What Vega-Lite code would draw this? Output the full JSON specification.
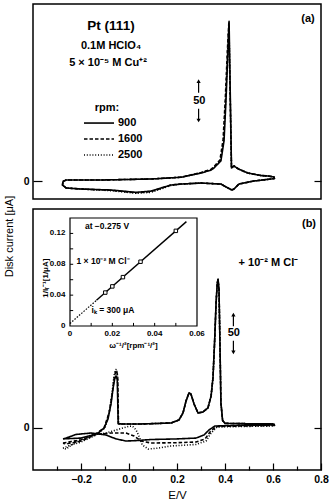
{
  "$schema": "https://vega.github.io/schema/vega-lite/v6.json",
  "background": "white",
  "padding": {"left": 2, "top": 3, "right": 2, "bottom": 2},
  "spacing": 10,
  "bounds": "flush",
  "config": {
    "view": {"stroke": "black", "strokeWidth": 1.5},
    "font": "Liberation Sans",
    "concat": {"spacing": 10},
    "axis": {"grid": false, "domain": false, "tickColor": "black", "tickWidth": 1.2, "labelColor": "black", "titleColor": "black", "labelFont": "Liberation Sans", "titleFont": "Liberation Sans", "labelFontWeight": "bold", "labelFontSize": 10.5, "titleFontWeight": "normal", "titleFontSize": 11.5, "labelFlush": false, "labelOverlap": false},
    "text": {"font": "Liberation Sans", "color": "black"}
  },
  "vconcat": [
    {
      "width": 288,
      "height": 195,
      "data": {"values": [
        {"rpm":"2500","i":0,"E":-0.275,"I":-0.5},{"rpm":"2500","i":1,"E":-0.262,"I":1.2},{"rpm":"2500","i":2,"E":-0.117,"I":1.2},{"rpm":"2500","i":3,"E":0.092,"I":2.4},{"rpm":"2500","i":4,"E":0.217,"I":4.5},{"rpm":"2500","i":5,"E":0.3,"I":9.8},{"rpm":"2500","i":6,"E":0.342,"I":13.5},{"rpm":"2500","i":7,"E":0.354,"I":16},{"rpm":"2500","i":8,"E":0.381,"I":24.5},{"rpm":"2500","i":9,"E":0.394,"I":48},{"rpm":"2500","i":10,"E":0.4025,"I":95},{"rpm":"2500","i":11,"E":0.411,"I":155},{"rpm":"2500","i":12,"E":0.4165,"I":186},{"rpm":"2500","i":13,"E":0.427,"I":15.5},{"rpm":"2500","i":14,"E":0.4375,"I":17.9},{"rpm":"2500","i":15,"E":0.458,"I":14},{"rpm":"2500","i":16,"E":0.496,"I":9.5},{"rpm":"2500","i":17,"E":0.55,"I":6.5},{"rpm":"2500","i":18,"E":0.579,"I":6},{"rpm":"2500","i":19,"E":0.604,"I":4.8},{"rpm":"2500","i":20,"E":0.606,"I":3},{"rpm":"2500","i":21,"E":0.592,"I":2.4},{"rpm":"2500","i":22,"E":0.52,"I":0},{"rpm":"2500","i":23,"E":0.458,"I":-3.6},{"rpm":"2500","i":24,"E":0.4375,"I":-9.5},{"rpm":"2500","i":25,"E":0.429,"I":-10.7},{"rpm":"2500","i":26,"E":0.4125,"I":-8.3},{"rpm":"2500","i":27,"E":0.383,"I":-3.6},{"rpm":"2500","i":28,"E":0.3,"I":-2.4},{"rpm":"2500","i":29,"E":0.217,"I":-3.6},{"rpm":"2500","i":30,"E":0.175,"I":-5.2},{"rpm":"2500","i":31,"E":0.133,"I":-9.5},{"rpm":"2500","i":32,"E":0.092,"I":-13.5},{"rpm":"2500","i":33,"E":0.029,"I":-14.5},{"rpm":"2500","i":34,"E":-0.075,"I":-11.5},{"rpm":"2500","i":35,"E":-0.2,"I":-9.5},{"rpm":"2500","i":36,"E":-0.262,"I":-8.3},{"rpm":"2500","i":37,"E":-0.277,"I":-4.8},{"rpm":"2500","i":38,"E":-0.275,"I":-0.5},
        {"rpm":"1600","i":0,"E":-0.275,"I":-0.5},{"rpm":"1600","i":1,"E":-0.262,"I":1.2},{"rpm":"1600","i":2,"E":-0.117,"I":1.2},{"rpm":"1600","i":3,"E":0.092,"I":2.4},{"rpm":"1600","i":4,"E":0.217,"I":4.5},{"rpm":"1600","i":5,"E":0.3,"I":10},{"rpm":"1600","i":6,"E":0.342,"I":14},{"rpm":"1600","i":7,"E":0.354,"I":17},{"rpm":"1600","i":8,"E":0.379,"I":25},{"rpm":"1600","i":9,"E":0.392,"I":49},{"rpm":"1600","i":10,"E":0.401,"I":96},{"rpm":"1600","i":11,"E":0.41,"I":156},{"rpm":"1600","i":12,"E":0.416,"I":188},{"rpm":"1600","i":13,"E":0.427,"I":15.5},{"rpm":"1600","i":14,"E":0.4375,"I":17.9},{"rpm":"1600","i":15,"E":0.458,"I":14},{"rpm":"1600","i":16,"E":0.496,"I":9.5},{"rpm":"1600","i":17,"E":0.55,"I":6.5},{"rpm":"1600","i":18,"E":0.579,"I":6},{"rpm":"1600","i":19,"E":0.604,"I":4.8},{"rpm":"1600","i":20,"E":0.606,"I":3},{"rpm":"1600","i":21,"E":0.592,"I":2.4},{"rpm":"1600","i":22,"E":0.52,"I":0},{"rpm":"1600","i":23,"E":0.458,"I":-3.6},{"rpm":"1600","i":24,"E":0.4375,"I":-9.5},{"rpm":"1600","i":25,"E":0.429,"I":-10.7},{"rpm":"1600","i":26,"E":0.4125,"I":-8.3},{"rpm":"1600","i":27,"E":0.383,"I":-3.6},{"rpm":"1600","i":28,"E":0.3,"I":-2.4},{"rpm":"1600","i":29,"E":0.217,"I":-3.6},{"rpm":"1600","i":30,"E":0.175,"I":-4.8},{"rpm":"1600","i":31,"E":0.133,"I":-8.8},{"rpm":"1600","i":32,"E":0.092,"I":-12.5},{"rpm":"1600","i":33,"E":0.029,"I":-14},{"rpm":"1600","i":34,"E":-0.075,"I":-11},{"rpm":"1600","i":35,"E":-0.2,"I":-9.5},{"rpm":"1600","i":36,"E":-0.262,"I":-8.3},{"rpm":"1600","i":37,"E":-0.277,"I":-4.8},{"rpm":"1600","i":38,"E":-0.275,"I":-0.5},
        {"rpm":"900","i":0,"E":-0.275,"I":-0.5},{"rpm":"900","i":1,"E":-0.262,"I":1.2},{"rpm":"900","i":2,"E":-0.117,"I":1.2},{"rpm":"900","i":3,"E":0.092,"I":2.4},{"rpm":"900","i":4,"E":0.217,"I":4.5},{"rpm":"900","i":5,"E":0.3,"I":9.5},{"rpm":"900","i":6,"E":0.342,"I":13},{"rpm":"900","i":7,"E":0.354,"I":15.5},{"rpm":"900","i":8,"E":0.383,"I":24},{"rpm":"900","i":9,"E":0.396,"I":48},{"rpm":"900","i":10,"E":0.404,"I":95},{"rpm":"900","i":11,"E":0.4125,"I":155},{"rpm":"900","i":12,"E":0.417,"I":190},{"rpm":"900","i":13,"E":0.427,"I":15.5},{"rpm":"900","i":14,"E":0.4375,"I":17.9},{"rpm":"900","i":15,"E":0.458,"I":14},{"rpm":"900","i":16,"E":0.496,"I":9.5},{"rpm":"900","i":17,"E":0.55,"I":6.5},{"rpm":"900","i":18,"E":0.579,"I":6},{"rpm":"900","i":19,"E":0.604,"I":4.8},{"rpm":"900","i":20,"E":0.606,"I":3},{"rpm":"900","i":21,"E":0.592,"I":2.4},{"rpm":"900","i":22,"E":0.52,"I":0},{"rpm":"900","i":23,"E":0.458,"I":-3.6},{"rpm":"900","i":24,"E":0.4375,"I":-9.5},{"rpm":"900","i":25,"E":0.429,"I":-10.7},{"rpm":"900","i":26,"E":0.4125,"I":-8.3},{"rpm":"900","i":27,"E":0.383,"I":-3.6},{"rpm":"900","i":28,"E":0.3,"I":-2.4},{"rpm":"900","i":29,"E":0.217,"I":-3.6},{"rpm":"900","i":30,"E":0.175,"I":-4.8},{"rpm":"900","i":31,"E":0.133,"I":-8.3},{"rpm":"900","i":32,"E":0.092,"I":-12},{"rpm":"900","i":33,"E":0.029,"I":-13.5},{"rpm":"900","i":34,"E":-0.075,"I":-10.7},{"rpm":"900","i":35,"E":-0.2,"I":-9.5},{"rpm":"900","i":36,"E":-0.262,"I":-8.3},{"rpm":"900","i":37,"E":-0.277,"I":-4.8},{"rpm":"900","i":38,"E":-0.275,"I":-0.5}
      ]},
      "layer": [
        {
          "mark": {"type": "line", "color": "black", "strokeWidth": 1.6, "strokeJoin": "round"},
          "encoding": {
            "x": {"field": "E", "type": "quantitative", "scale": {"domain": [-0.4, 0.8], "nice": false, "zero": false}, "axis": {"orient": "top", "values": [-0.3,-0.2,-0.1,0,0.1,0.2,0.3,0.4,0.5,0.6,0.7], "labels": false, "tickSize": -5, "title": null}},
            "y": {"field": "I", "type": "quantitative", "scale": {"domain": [-21.4, 210.7], "nice": false, "zero": false}, "axis": {"orient": "left", "values": [0], "tickSize": -9, "labelPadding": 13, "title": null}},
            "strokeDash": {"field": "rpm", "type": "nominal", "scale": {"domain": ["900","1600","2500"], "range": [[1,0],[3.5,2],[1,1.8]]}, "legend": null},
            "order": {"field": "i", "type": "quantitative"}
          }
        },
        {
          "data": {"values": [{}]},
          "mark": {"type": "rule", "color": "black", "strokeWidth": 1.2},
          "encoding": {
            "x": {"datum": 0.29, "type": "quantitative", "axis": null},
            "y": {"datum": 105, "type": "quantitative", "axis": {"orient": "right", "values": [0], "labels": false, "tickSize": -7, "title": null}},
            "y2": {"datum": 119}
          }
        },
        {
          "data": {"values": [{}]},
          "mark": {"type": "rule", "color": "black", "strokeWidth": 1.2},
          "encoding": {
            "x": {"datum": 0.29, "type": "quantitative", "axis": null},
            "y": {"datum": 86, "type": "quantitative", "axis": null},
            "y2": {"datum": 72}
          }
        },
        {
          "data": {"values": [{}]},
          "mark": {"type": "point", "shape": "triangle-up", "filled": true, "color": "black", "size": 18, "opacity": 1},
          "encoding": {"x": {"datum": 0.29, "type": "quantitative", "axis": null}, "y": {"datum": 119, "type": "quantitative", "axis": null}}
        },
        {
          "data": {"values": [{}]},
          "mark": {"type": "point", "shape": "triangle-down", "filled": true, "color": "black", "size": 18, "opacity": 1},
          "encoding": {"x": {"datum": 0.29, "type": "quantitative", "axis": null}, "y": {"datum": 72, "type": "quantitative", "axis": null}}
        },
        {
          "data": {"values": [{}]},
          "mark": {"type": "text", "text": "50", "fontSize": 11, "fontWeight": "bold"},
          "encoding": {"x": {"datum": 0.293, "type": "quantitative", "axis": null}, "y": {"datum": 95, "type": "quantitative", "axis": null}}
        },
        {
          "data": {"values": [{}]},
          "mark": {"type": "text", "text": "Pt (111)", "fontSize": 13.5, "fontWeight": "bold"},
          "encoding": {"x": {"datum": -0.075, "type": "quantitative", "axis": null}, "y": {"datum": 184, "type": "quantitative", "axis": null}}
        },
        {
          "data": {"values": [{}]},
          "mark": {"type": "text", "text": "0.1M   HClO₄", "fontSize": 11, "fontWeight": "bold"},
          "encoding": {"x": {"datum": -0.075, "type": "quantitative", "axis": null}, "y": {"datum": 161, "type": "quantitative", "axis": null}}
        },
        {
          "data": {"values": [{}]},
          "mark": {"type": "text", "text": "5 × 10⁻⁵ M Cu⁺²", "fontSize": 11, "fontWeight": "bold"},
          "encoding": {"x": {"datum": -0.0875, "type": "quantitative", "axis": null}, "y": {"datum": 140, "type": "quantitative", "axis": null}}
        },
        {
          "data": {"values": [{}]},
          "mark": {"type": "text", "text": "(a)", "fontSize": 11, "fontWeight": "bold"},
          "encoding": {"x": {"datum": 0.746, "type": "quantitative", "axis": null}, "y": {"datum": 193, "type": "quantitative", "axis": null}}
        },
        {
          "data": {"values": [{}]},
          "mark": {"type": "text", "text": "rpm:", "fontSize": 11, "fontWeight": "bold"},
          "encoding": {"x": {"datum": -0.0917, "type": "quantitative", "axis": null}, "y": {"datum": 87, "type": "quantitative", "axis": null}}
        },
        {
          "data": {"values": [{}]},
          "mark": {"type": "rule", "color": "black", "strokeWidth": 1.6},
          "encoding": {"x": {"datum": -0.1875, "type": "quantitative", "axis": null}, "x2": {"datum": -0.0625}, "y": {"datum": 69, "type": "quantitative", "axis": null}}
        },
        {
          "data": {"values": [{}]},
          "mark": {"type": "rule", "color": "black", "strokeWidth": 1.6, "strokeDash": [3.5, 2]},
          "encoding": {"x": {"datum": -0.1875, "type": "quantitative", "axis": null}, "x2": {"datum": -0.0625}, "y": {"datum": 50, "type": "quantitative", "axis": null}}
        },
        {
          "data": {"values": [{}]},
          "mark": {"type": "rule", "color": "black", "strokeWidth": 1.6, "strokeDash": [1, 1.8]},
          "encoding": {"x": {"datum": -0.1875, "type": "quantitative", "axis": null}, "x2": {"datum": -0.0625}, "y": {"datum": 31, "type": "quantitative", "axis": null}}
        },
        {
          "data": {"values": [{}]},
          "mark": {"type": "text", "text": "900", "fontSize": 11, "fontWeight": "bold", "align": "left"},
          "encoding": {"x": {"datum": -0.046, "type": "quantitative", "axis": null}, "y": {"datum": 69, "type": "quantitative", "axis": null}}
        },
        {
          "data": {"values": [{}]},
          "mark": {"type": "text", "text": "1600", "fontSize": 11, "fontWeight": "bold", "align": "left"},
          "encoding": {"x": {"datum": -0.046, "type": "quantitative", "axis": null}, "y": {"datum": 50, "type": "quantitative", "axis": null}}
        },
        {
          "data": {"values": [{}]},
          "mark": {"type": "text", "text": "2500", "fontSize": 11, "fontWeight": "bold", "align": "left"},
          "encoding": {"x": {"datum": -0.046, "type": "quantitative", "axis": null}, "y": {"datum": 31, "type": "quantitative", "axis": null}}
        }
      ],
      "resolve": {"axis": {"y": "independent"}}
    },
    {
      "width": 288,
      "height": 261,
      "layer": [
        {
          "data": {"values": [
            {"rpm":"2500","i":0,"E":-0.275,"I":-24},{"rpm":"2500","i":1,"E":-0.24,"I":-20},{"rpm":"2500","i":2,"E":-0.2,"I":-16.7},{"rpm":"2500","i":3,"E":-0.1375,"I":-8.3},{"rpm":"2500","i":4,"E":-0.1,"I":0},{"rpm":"2500","i":5,"E":-0.083,"I":18},{"rpm":"2500","i":6,"E":-0.071,"I":40},{"rpm":"2500","i":7,"E":-0.0625,"I":62},{"rpm":"2500","i":8,"E":-0.057,"I":69},{"rpm":"2500","i":9,"E":-0.052,"I":70},{"rpm":"2500","i":10,"E":-0.048,"I":63},{"rpm":"2500","i":11,"E":-0.044,"I":5},
            {"rpm":"2500","i":12,"E":-0.03,"I":4.8},{"rpm":"2500","i":13,"E":0.05,"I":4.8},{"rpm":"2500","i":14,"E":0.12,"I":5.4},{"rpm":"2500","i":15,"E":0.175,"I":6},{"rpm":"2500","i":16,"E":0.208,"I":9.5},{"rpm":"2500","i":17,"E":0.225,"I":17.9},{"rpm":"2500","i":18,"E":0.2375,"I":32},{"rpm":"2500","i":19,"E":0.25,"I":41.7},{"rpm":"2500","i":20,"E":0.258,"I":40.5},{"rpm":"2500","i":21,"E":0.271,"I":28.6},{"rpm":"2500","i":22,"E":0.2875,"I":17.9},{"rpm":"2500","i":23,"E":0.308,"I":19},{"rpm":"2500","i":24,"E":0.329,"I":24},{"rpm":"2500","i":25,"E":0.342,"I":38},{"rpm":"2500","i":26,"E":0.35,"I":60},{"rpm":"2500","i":27,"E":0.357,"I":105},{"rpm":"2500","i":28,"E":0.363,"I":150},{"rpm":"2500","i":29,"E":0.368,"I":173},{"rpm":"2500","i":30,"E":0.371,"I":177},{"rpm":"2500","i":31,"E":0.375,"I":165},{"rpm":"2500","i":32,"E":0.379,"I":100},{"rpm":"2500","i":33,"E":0.383,"I":30},{"rpm":"2500","i":34,"E":0.39,"I":9},{"rpm":"2500","i":35,"E":0.4,"I":5.5},{"rpm":"2500","i":36,"E":0.467,"I":5.2},{"rpm":"2500","i":37,"E":0.604,"I":4.8},
            {"rpm":"2500","i":38,"E":0.606,"I":2.4},{"rpm":"2500","i":39,"E":0.467,"I":1.8},{"rpm":"2500","i":40,"E":0.367,"I":1.2},{"rpm":"2500","i":41,"E":0.342,"I":-6},{"rpm":"2500","i":42,"E":0.321,"I":-15.5},{"rpm":"2500","i":43,"E":0.279,"I":-19.6},{"rpm":"2500","i":44,"E":0.175,"I":-21.4},{"rpm":"2500","i":45,"E":0.12,"I":-24},{"rpm":"2500","i":46,"E":0.08,"I":-25},{"rpm":"2500","i":47,"E":0.055,"I":-20},{"rpm":"2500","i":48,"E":0.042,"I":-10},{"rpm":"2500","i":49,"E":0.029,"I":-2},{"rpm":"2500","i":50,"E":0.015,"I":2},{"rpm":"2500","i":51,"E":0.0,"I":2},{"rpm":"2500","i":52,"E":-0.054,"I":-2.4},{"rpm":"2500","i":53,"E":-0.096,"I":-6},{"rpm":"2500","i":54,"E":-0.158,"I":-8.3},{"rpm":"2500","i":55,"E":-0.221,"I":-16.7},{"rpm":"2500","i":56,"E":-0.2625,"I":-25},{"rpm":"2500","i":57,"E":-0.275,"I":-24},
            {"rpm":"1600","i":0,"E":-0.275,"I":-18},{"rpm":"1600","i":1,"E":-0.24,"I":-16},{"rpm":"1600","i":2,"E":-0.2,"I":-14},{"rpm":"1600","i":3,"E":-0.16,"I":-10},{"rpm":"1600","i":4,"E":-0.1375,"I":-7},{"rpm":"1600","i":5,"E":-0.104,"I":0},{"rpm":"1600","i":6,"E":-0.083,"I":18},{"rpm":"1600","i":7,"E":-0.071,"I":38},{"rpm":"1600","i":8,"E":-0.0625,"I":58},{"rpm":"1600","i":9,"E":-0.056,"I":67},{"rpm":"1600","i":10,"E":-0.051,"I":68},{"rpm":"1600","i":11,"E":-0.047,"I":60},{"rpm":"1600","i":12,"E":-0.044,"I":5},
            {"rpm":"1600","i":13,"E":-0.03,"I":4.8},{"rpm":"1600","i":14,"E":0.05,"I":4.8},{"rpm":"1600","i":15,"E":0.12,"I":5.4},{"rpm":"1600","i":16,"E":0.175,"I":6},{"rpm":"1600","i":17,"E":0.208,"I":9.5},{"rpm":"1600","i":18,"E":0.225,"I":17.9},{"rpm":"1600","i":19,"E":0.2375,"I":32},{"rpm":"1600","i":20,"E":0.25,"I":41.7},{"rpm":"1600","i":21,"E":0.258,"I":40.5},{"rpm":"1600","i":22,"E":0.271,"I":28.6},{"rpm":"1600","i":23,"E":0.2875,"I":17.9},{"rpm":"1600","i":24,"E":0.308,"I":19},{"rpm":"1600","i":25,"E":0.329,"I":24},{"rpm":"1600","i":26,"E":0.342,"I":38},{"rpm":"1600","i":27,"E":0.35,"I":60},{"rpm":"1600","i":28,"E":0.357,"I":105},{"rpm":"1600","i":29,"E":0.363,"I":150},{"rpm":"1600","i":30,"E":0.368,"I":173},{"rpm":"1600","i":31,"E":0.371,"I":177},{"rpm":"1600","i":32,"E":0.375,"I":165},{"rpm":"1600","i":33,"E":0.379,"I":100},{"rpm":"1600","i":34,"E":0.383,"I":30},{"rpm":"1600","i":35,"E":0.39,"I":9},{"rpm":"1600","i":36,"E":0.4,"I":5.5},{"rpm":"1600","i":37,"E":0.467,"I":5.2},{"rpm":"1600","i":38,"E":0.604,"I":4.8},
            {"rpm":"1600","i":39,"E":0.606,"I":3},{"rpm":"1600","i":40,"E":0.467,"I":2.4},{"rpm":"1600","i":41,"E":0.3625,"I":1.8},{"rpm":"1600","i":42,"E":0.3375,"I":-4.8},{"rpm":"1600","i":43,"E":0.317,"I":-13},{"rpm":"1600","i":44,"E":0.279,"I":-16.7},{"rpm":"1600","i":45,"E":0.2,"I":-17.5},{"rpm":"1600","i":46,"E":0.092,"I":-17.9},{"rpm":"1600","i":47,"E":0.05,"I":-15.5},{"rpm":"1600","i":48,"E":0.021,"I":-9.5},{"rpm":"1600","i":49,"E":-0.0125,"I":-6},{"rpm":"1600","i":50,"E":-0.075,"I":-6},{"rpm":"1600","i":51,"E":-0.1375,"I":-7.7},{"rpm":"1600","i":52,"E":-0.2,"I":-15.5},{"rpm":"1600","i":53,"E":-0.2625,"I":-19},{"rpm":"1600","i":54,"E":-0.275,"I":-18},
            {"rpm":"900","i":0,"E":-0.275,"I":-13},{"rpm":"900","i":1,"E":-0.24,"I":-12.5},{"rpm":"900","i":2,"E":-0.2,"I":-12},{"rpm":"900","i":3,"E":-0.16,"I":-9},{"rpm":"900","i":4,"E":-0.129,"I":-6},{"rpm":"900","i":5,"E":-0.104,"I":0},{"rpm":"900","i":6,"E":-0.0875,"I":10.7},{"rpm":"900","i":7,"E":-0.075,"I":28.6},{"rpm":"900","i":8,"E":-0.067,"I":46},{"rpm":"900","i":9,"E":-0.06,"I":58},{"rpm":"900","i":10,"E":-0.054,"I":62},{"rpm":"900","i":11,"E":-0.049,"I":58},{"rpm":"900","i":12,"E":-0.045,"I":5},
            {"rpm":"900","i":13,"E":-0.03,"I":4.8},{"rpm":"900","i":14,"E":0.05,"I":4.8},{"rpm":"900","i":15,"E":0.12,"I":5.4},{"rpm":"900","i":16,"E":0.175,"I":6},{"rpm":"900","i":17,"E":0.208,"I":9.5},{"rpm":"900","i":18,"E":0.225,"I":17.9},{"rpm":"900","i":19,"E":0.2375,"I":32},{"rpm":"900","i":20,"E":0.25,"I":41.7},{"rpm":"900","i":21,"E":0.258,"I":40.5},{"rpm":"900","i":22,"E":0.271,"I":28.6},{"rpm":"900","i":23,"E":0.2875,"I":17.9},{"rpm":"900","i":24,"E":0.308,"I":19},{"rpm":"900","i":25,"E":0.329,"I":24},{"rpm":"900","i":26,"E":0.342,"I":38},{"rpm":"900","i":27,"E":0.35,"I":60},{"rpm":"900","i":28,"E":0.357,"I":105},{"rpm":"900","i":29,"E":0.363,"I":150},{"rpm":"900","i":30,"E":0.368,"I":173},{"rpm":"900","i":31,"E":0.371,"I":177},{"rpm":"900","i":32,"E":0.375,"I":165},{"rpm":"900","i":33,"E":0.379,"I":100},{"rpm":"900","i":34,"E":0.383,"I":30},{"rpm":"900","i":35,"E":0.39,"I":9},{"rpm":"900","i":36,"E":0.4,"I":5.5},{"rpm":"900","i":37,"E":0.467,"I":5.2},{"rpm":"900","i":38,"E":0.604,"I":4.8},
            {"rpm":"900","i":39,"E":0.606,"I":3.6},{"rpm":"900","i":40,"E":0.467,"I":3},{"rpm":"900","i":41,"E":0.358,"I":2.4},{"rpm":"900","i":42,"E":0.333,"I":-2.4},{"rpm":"900","i":43,"E":0.3125,"I":-8.3},{"rpm":"900","i":44,"E":0.279,"I":-12},{"rpm":"900","i":45,"E":0.2,"I":-13},{"rpm":"900","i":46,"E":0.092,"I":-13.7},{"rpm":"900","i":47,"E":0.03,"I":-15},{"rpm":"900","i":48,"E":-0.0125,"I":-15.5},{"rpm":"900","i":49,"E":-0.054,"I":-13},{"rpm":"900","i":50,"E":-0.096,"I":-8.3},{"rpm":"900","i":51,"E":-0.158,"I":-6},{"rpm":"900","i":52,"E":-0.221,"I":-7.7},{"rpm":"900","i":53,"E":-0.2625,"I":-12},{"rpm":"900","i":54,"E":-0.275,"I":-13}
          ]},
          "layer": [
            {
              "mark": {"type": "line", "color": "black", "strokeWidth": 1.6, "strokeJoin": "round"},
              "encoding": {
                "x": {"field": "E", "type": "quantitative", "scale": {"domain": [-0.4, 0.8], "nice": false, "zero": false}, "axis": {"orient": "bottom", "values": [-0.2, 0, 0.2, 0.4, 0.6, 0.8], "format": ".1f", "tickSize": -7, "labelPadding": 11, "title": "E/V", "titlePadding": 5}},
                "y": {"field": "I", "type": "quantitative", "scale": {"domain": [-50, 260.7], "nice": false, "zero": false}, "axis": {"orient": "left", "values": [0], "tickSize": -9, "labelPadding": 13, "title": "Disk current [μA]", "titleX": -24, "titleY": 27, "titleBaseline": "middle", "titleFontSize": 11}},
                "strokeDash": {"field": "rpm", "type": "nominal", "scale": {"domain": ["900","1600","2500"], "range": [[1,0],[3.5,2],[1,1.8]]}, "legend": null},
                "order": {"field": "i", "type": "quantitative"}
              }
            },
            {
              "data": {"values": [{}]},
              "mark": {"type": "rule", "color": "black", "strokeWidth": 1.2},
              "encoding": {
                "x": {"datum": 0.435, "type": "quantitative", "axis": {"orient": "bottom", "values": [-0.3, -0.1, 0.1, 0.3, 0.5, 0.7], "labels": false, "tickSize": -4, "title": null}},
                "y": {"datum": 121, "type": "quantitative", "axis": {"orient": "right", "values": [0], "labels": false, "tickSize": -7, "title": null}},
                "y2": {"datum": 135}
              }
            },
            {
              "data": {"values": [{}]},
              "mark": {"type": "rule", "color": "black", "strokeWidth": 1.2},
              "encoding": {"x": {"datum": 0.435, "type": "quantitative", "axis": null}, "y": {"datum": 104, "type": "quantitative", "axis": null}, "y2": {"datum": 90}}
            },
            {
              "data": {"values": [{}]},
              "mark": {"type": "point", "shape": "triangle-up", "filled": true, "color": "black", "size": 18, "opacity": 1},
              "encoding": {"x": {"datum": 0.435, "type": "quantitative", "axis": null}, "y": {"datum": 135, "type": "quantitative", "axis": null}}
            },
            {
              "data": {"values": [{}]},
              "mark": {"type": "point", "shape": "triangle-down", "filled": true, "color": "black", "size": 18, "opacity": 1},
              "encoding": {"x": {"datum": 0.435, "type": "quantitative", "axis": null}, "y": {"datum": 90, "type": "quantitative", "axis": null}}
            },
            {
              "data": {"values": [{}]},
              "mark": {"type": "text", "text": "50", "fontSize": 11, "fontWeight": "bold"},
              "encoding": {"x": {"datum": 0.437, "type": "quantitative", "axis": null}, "y": {"datum": 113, "type": "quantitative", "axis": null}}
            },
            {
              "data": {"values": [{}]},
              "mark": {"type": "text", "text": "(b)", "fontSize": 11, "fontWeight": "bold"},
              "encoding": {"x": {"datum": 0.75, "type": "quantitative", "axis": null}, "y": {"datum": 243, "type": "quantitative", "axis": null}}
            },
            {
              "data": {"values": [{}]},
              "mark": {"type": "text", "text": "+ 10⁻² M Cl⁻", "fontSize": 11, "fontWeight": "bold"},
              "encoding": {"x": {"datum": 0.581, "type": "quantitative", "axis": null}, "y": {"datum": 196, "type": "quantitative", "axis": null}}
            }
          ],
          "resolve": {"axis": {"x": "independent", "y": "independent"}}
        },
        {
          "layer": [
            {
              "data": {"values": [{}]},
              "mark": {"type": "rect", "fill": "white", "stroke": "black", "strokeWidth": 1.2},
              "encoding": {
                "x": {"datum": 0, "type": "quantitative", "scale": {"domain": [0, 0.06], "range": [37, 164], "nice": false, "zero": false}, "axis": null},
                "x2": {"datum": 0.06},
                "y": {"datum": 0, "type": "quantitative", "scale": {"domain": [0, 0.14], "range": [117, 9], "nice": false, "zero": false}, "axis": null},
                "y2": {"datum": 0.14}
              }
            },
            {
              "data": {"values": [{"t": 0.01}, {"t": 0.02}, {"t": 0.03}, {"t": 0.04}, {"t": 0.05}]},
              "mark": {"type": "rule", "color": "black", "strokeWidth": 1},
              "encoding": {"x": {"field": "t", "type": "quantitative", "axis": null}, "y": {"datum": 0, "type": "quantitative", "axis": null}, "y2": {"datum": 0.004}}
            },
            {
              "data": {"values": [{"v": 0.02}, {"v": 0.04}, {"v": 0.06}, {"v": 0.08}, {"v": 0.1}, {"v": 0.12}]},
              "mark": {"type": "rule", "color": "black", "strokeWidth": 1},
              "encoding": {"y": {"field": "v", "type": "quantitative", "axis": null}, "x": {"datum": 0, "type": "quantitative", "axis": null}, "x2": {"datum": 0.0015}}
            },
            {
              "data": {"values": [{"t": 0, "lab": "0"}, {"t": 0.02, "lab": "0.02"}, {"t": 0.04, "lab": "0.04"}, {"t": 0.06, "lab": "0.06"}]},
              "mark": {"type": "text", "fontSize": 8, "fontWeight": "bold", "baseline": "middle"},
              "encoding": {"x": {"field": "t", "type": "quantitative", "axis": null}, "y": {"datum": -0.0105, "type": "quantitative", "axis": null}, "text": {"field": "lab"}}
            },
            {
              "data": {"values": [{"v": 0, "lab": "0"}, {"v": 0.04, "lab": "0.04"}, {"v": 0.08, "lab": "0.08"}, {"v": 0.12, "lab": "0.12"}]},
              "mark": {"type": "text", "fontSize": 8, "fontWeight": "bold", "align": "right", "baseline": "middle"},
              "encoding": {"y": {"field": "v", "type": "quantitative", "axis": null}, "x": {"datum": -0.0022, "type": "quantitative", "axis": null}, "text": {"field": "lab"}}
            },
            {
              "data": {"values": [{}]},
              "mark": {"type": "text", "text": "ω⁻¹/²[rpm⁻¹/²]", "fontSize": 8, "fontWeight": "bold"},
              "encoding": {"x": {"datum": 0.03, "type": "quantitative", "axis": null}, "y": {"datum": -0.026, "type": "quantitative", "axis": null}}
            },
            {
              "data": {"values": [{}]},
              "mark": {"type": "text", "text": "1/Iᵣ⁻¹[1/μA]", "fontSize": 8, "fontWeight": "bold", "angle": 270},
              "encoding": {"x": {"datum": -0.0112, "type": "quantitative", "axis": null}, "y": {"datum": 0.062, "type": "quantitative", "axis": null}}
            },
            {
              "data": {"values": [{"w": 0, "inv": 0.0033}, {"w": 0.0125, "inv": 0.0333}]},
              "mark": {"type": "line", "color": "black", "strokeWidth": 1.2, "strokeDash": [1.5, 1.5]},
              "encoding": {"x": {"field": "w", "type": "quantitative", "axis": null}, "y": {"field": "inv", "type": "quantitative", "axis": null}}
            },
            {
              "data": {"values": [{"w": 0.0125, "inv": 0.0333}, {"w": 0.055, "inv": 0.1353}]},
              "mark": {"type": "line", "color": "black", "strokeWidth": 1.4},
              "encoding": {"x": {"field": "w", "type": "quantitative", "axis": null}, "y": {"field": "inv", "type": "quantitative", "axis": null}}
            },
            {
              "data": {"values": [{"w": 0.01667, "inv": 0.04333}, {"w": 0.02, "inv": 0.05133}, {"w": 0.025, "inv": 0.06333}, {"w": 0.03333, "inv": 0.08333}, {"w": 0.05, "inv": 0.12333}]},
              "mark": {"type": "point", "shape": "square", "filled": true, "fill": "white", "stroke": "black", "strokeWidth": 1, "size": 12, "opacity": 1},
              "encoding": {"x": {"field": "w", "type": "quantitative", "axis": null}, "y": {"field": "inv", "type": "quantitative", "axis": null}}
            },
            {
              "data": {"values": [{}]},
              "mark": {"type": "text", "text": "at −0.275 V", "fontSize": 8.5, "fontWeight": "bold"},
              "encoding": {"x": {"datum": 0.0175, "type": "quantitative", "axis": null}, "y": {"datum": 0.13, "type": "quantitative", "axis": null}}
            },
            {
              "data": {"values": [{}]},
              "mark": {"type": "text", "text": "1 × 10⁻² M Cl⁻", "fontSize": 8.5, "fontWeight": "bold"},
              "encoding": {"x": {"datum": 0.0156, "type": "quantitative", "axis": null}, "y": {"datum": 0.084, "type": "quantitative", "axis": null}}
            },
            {
              "data": {"values": [{}]},
              "mark": {"type": "text", "text": "iₖ = 300 μA", "fontSize": 8.5, "fontWeight": "bold"},
              "encoding": {"x": {"datum": 0.0203, "type": "quantitative", "axis": null}, "y": {"datum": 0.0207, "type": "quantitative", "axis": null}}
            }
          ]
        }
      ],
      "resolve": {"scale": {"x": "independent", "y": "independent"}}
    }
  ]
}
